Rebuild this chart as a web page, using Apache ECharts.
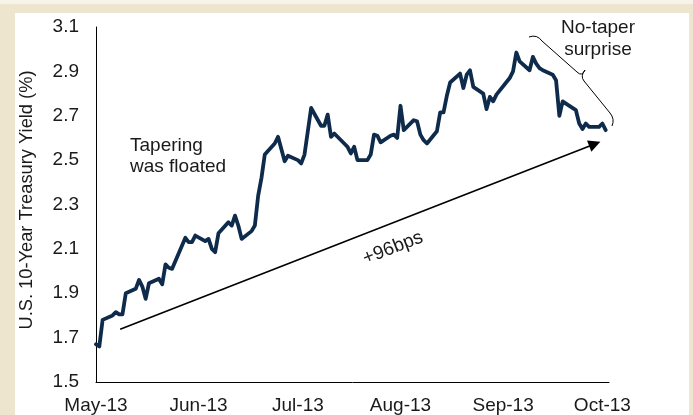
<!DOCTYPE html>
<html>
<head>
<meta charset="utf-8">
<script src="https://cdn.jsdelivr.net/npm/echarts@6/dist/echarts.min.js"></script>
<style>
  html, body { margin: 0; padding: 0; background: #ede5ce; }
  #chart { width: 693px; height: 415px; }
</style>
</head>
<body>
<div id="chart"></div>
<script>
// Trading days, counted in calendar days from 1 May 2013
const dayOffsets = [
  0, 1, 2, 5, 6, 7, 8, 9, 12, 13, 14, 15, 16, 19, 20, 21, 22, 23, 27, 28, 29, 30,
  33, 34, 35, 36, 37, 40, 41, 42, 43, 44, 47, 48, 49, 50, 51, 54, 55, 56, 57, 58,
  61, 62, 63, 65, 68, 69, 70, 71, 72, 75, 76, 77, 78, 79, 82, 83, 84, 85, 86, 89, 90, 91,
  92, 93, 96, 97, 98, 99, 100, 103, 104, 105, 106, 107, 110, 111, 112, 113, 114, 117, 118, 119, 120, 121,
  125, 126, 127, 128, 131, 132, 133, 134, 135, 138, 139, 140, 141, 142, 145, 146, 147, 148, 149, 152,
  153, 154
];

// U.S. 10-year Treasury yield (%) on each of those days
const yieldPct = [
  1.67, 1.66, 1.78, 1.80, 1.815, 1.805, 1.805, 1.90, 1.92, 1.96, 1.93, 1.875, 1.945, 1.965, 1.94, 2.03, 2.015, 2.01, 2.15, 2.13, 2.13, 2.16,
  2.135, 2.145, 2.10, 2.085, 2.17, 2.22, 2.205, 2.25, 2.205, 2.145, 2.18, 2.205, 2.34, 2.42, 2.525, 2.575, 2.605, 2.55, 2.495, 2.52,
  2.50, 2.485, 2.525, 2.735, 2.655, 2.655, 2.705, 2.605, 2.62, 2.575, 2.56, 2.53, 2.56, 2.50, 2.50, 2.525, 2.615, 2.61, 2.58, 2.61, 2.615, 2.60,
  2.745, 2.635, 2.68, 2.675, 2.615, 2.59, 2.575, 2.63, 2.715, 2.715, 2.79, 2.85, 2.89, 2.825, 2.885, 2.905, 2.83, 2.80, 2.73, 2.785, 2.765, 2.795,
  2.87, 2.90, 2.985, 2.945, 2.905, 2.965, 2.935, 2.915, 2.905, 2.885, 2.86, 2.70, 2.765, 2.755, 2.725, 2.665, 2.64, 2.665, 2.65, 2.65,
  2.665, 2.635
];

// Month boundaries on the day axis and their labels
const monthTicks = [0, 31, 61, 92, 123, 153];
const monthLabels = ['May-13', 'Jun-13', 'Jul-13', 'Aug-13', 'Sep-13', 'Oct-13'];

// Y-axis tick values
const yTicks = [1.5, 1.7, 1.9, 2.1, 2.3, 2.5, 2.7, 2.9, 3.1];

// Trend arrow as [day, yield]; the end point is the centre of the arrowhead
const trendStart = [7.3, 1.738];
const trendEnd = [150.7, 2.573];

const FONT = '"Liberation Sans", Arial, Helvetica, sans-serif';
const TEXT = '#1a1a1a';

const chart = echarts.init(document.getElementById('chart'), null, { renderer: 'canvas' });

const seriesData = dayOffsets.map((d, i) => [d, yieldPct[i]]);

// pieces of the curly brace
const braceStroke = { fill: null, stroke: '#000', lineWidth: 1 };
const curve = (x1, y1, cx, cy, x2, y2) => ({
  type: 'bezierCurve', silent: true,
  shape: { x1, y1, cpx1: cx, cpy1: cy, x2, y2 }, style: braceStroke
});
const seg = (x1, y1, x2, y2) => ({
  type: 'line', silent: true, shape: { x1, y1, x2, y2 }, style: braceStroke
});

chart.setOption({
  animation: false,
  backgroundColor: '#ede5ce',
  grid: { left: 96, right: 84, top: 27, bottom: 32, containLabel: false },
  xAxis: {
    type: 'value',
    min: 0,
    max: 155,
    splitLine: { show: false },
    axisLine: { show: true, onZero: false, lineStyle: { color: '#000', width: 1 } },
    axisTick: { show: false },
    minorTick: { show: false },
    axisLabel: {
      customValues: monthTicks,
      margin: 14,
      color: TEXT,
      fontFamily: FONT,
      fontSize: 19,
      formatter: (v) => monthLabels[monthTicks.indexOf(v)] || ''
    }
  },
  yAxis: {
    type: 'value',
    min: 1.5,
    max: 3.1,
    splitLine: { show: false },
    axisLine: { show: true, lineStyle: { color: '#000', width: 1 } },
    axisTick: { show: false },
    axisLabel: {
      customValues: yTicks,
      margin: 17,
      color: TEXT,
      fontFamily: FONT,
      fontSize: 19,
      formatter: (v) => v.toFixed(1)
    },
    name: 'U.S. 10-Year Treasury Yield (%)',
    nameLocation: 'middle',
    nameGap: 60,
    nameTextStyle: {
      color: TEXT,
      fontFamily: FONT,
      fontSize: 18.3,
      padding: [0, 0, 0, 9]
    }
  },
  series: [{
    type: 'line',
    data: seriesData,
    showSymbol: false,
    symbol: 'none',
    lineStyle: { color: '#0f2b4c', width: 3.8, join: 'round', cap: 'round' },
    emphasis: { disabled: true },
    silent: true,
    markLine: {
      silent: true,
      symbol: ['none', 'triangle'],
      symbolSize: 12,
      label: { show: false },
      lineStyle: { color: '#000', width: 1.6, type: 'solid' },
      itemStyle: { color: '#000' },
      emphasis: { disabled: true },
      data: [[{ coord: trendStart }, { coord: trendEnd }]]
    }
  }],
  graphic: [
    // light top edge and white panel of the frame
    { type: 'rect', z: -10, silent: true, shape: { x: 0, y: 0, width: 693, height: 4 }, style: { fill: '#f6f3ea' } },
    { type: 'rect', z: -10, silent: true, shape: { x: 15, y: 13, width: 674, height: 402 }, style: { fill: '#ffffff' } },
    {
      type: 'text', silent: true, x: 130, y: 156,
      style: {
        text: 'Tapering\nwas floated', fill: TEXT, fontFamily: FONT, fontSize: 19,
        lineHeight: 21, align: 'left', verticalAlign: 'middle'
      }
    },
    {
      type: 'text', silent: true, x: 598, y: 38.5,
      style: {
        text: 'No-taper\nsurprise', fill: TEXT, fontFamily: FONT, fontSize: 19,
        lineHeight: 22, align: 'center', verticalAlign: 'middle'
      }
    },
    {
      type: 'text', silent: true, x: 393, y: 248, rotation: 0.372,
      style: {
        text: '+96bps', fill: TEXT, fontFamily: FONT, fontSize: 19,
        align: 'center', verticalAlign: 'middle'
      }
    },
    curve(529, 37, 537, 34, 542, 41),
    seg(542, 41, 577, 72),
    curve(577, 72, 582, 77, 585, 70),
    curve(585, 70, 580, 76, 584, 81),
    seg(584, 81, 610, 113),
    curve(610, 113, 615, 119, 612, 126)
  ]
});
</script>
</body>
</html>
